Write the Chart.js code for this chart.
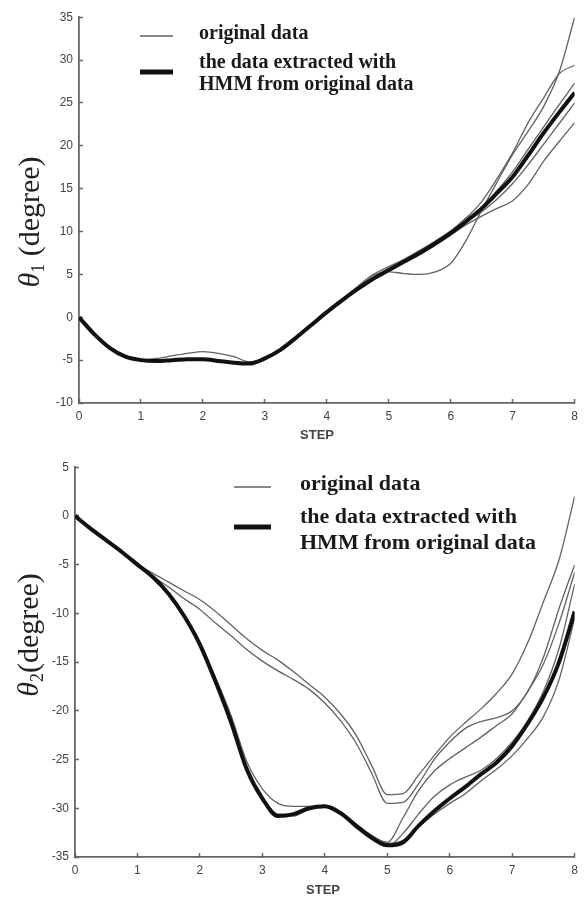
<!DOCTYPE html>
<html>
<head>
<meta charset="utf-8">
<script src="https://cdn.jsdelivr.net/npm/chart.js@4.4.0/dist/chart.umd.min.js"></script>
<style>
  html, body { margin: 0; padding: 0; background: #fff; }
  canvas { display: block; }
</style>
</head>
<body>
<canvas id="theta1" width="588" height="450"></canvas>
<canvas id="theta2" width="588" height="450"></canvas>
<script>
// x positions (STEP) shared by every curve
const steps = [0, 0.25, 0.5, 0.75, 1, 1.25, 1.5, 1.75, 2, 2.25, 2.5, 2.75, 3, 3.25, 3.5, 3.75,
  4, 4.25, 4.5, 4.75, 5, 5.25, 5.5, 5.75, 6, 6.25, 6.5, 6.75, 7, 7.25, 7.5, 7.75, 8];

// theta1 - HMM curve and the original recordings
const theta1Hmm = [0, -2.0, -3.6, -4.6, -5.0, -5.1, -5.0, -4.9, -4.9, -5.1, -5.3, -5.4, -4.8, -3.8, -2.4, -0.9,
  0.6, 2.0, 3.3, 4.5, 5.5, 6.5, 7.5, 8.6, 9.8, 11.2, 12.7, 14.5, 16.4, 18.9, 21.5, 23.9, 26.2];
const theta1A = [0, -2.0, -3.5, -4.5, -4.9, -5.0, -5.0, -5.0, -5.0, -5.1, -5.3, -5.3, -4.8, -3.7, -2.3, -0.8,
  0.7, 2.1, 3.6, 4.9, 5.3, 5.1, 5.0, 5.3, 6.3, 9.0, 12.5, 15.8, 19.0, 21.7, 24.6, 28.6, 35.0];
const theta1B = [0, -1.9, -3.5, -4.5, -4.9, -4.8, -4.5, -4.2, -4.0, -4.2, -4.6, -5.2, -4.9, -3.9, -2.5, -0.9,
  0.6, 2.1, 3.6, 5.0, 5.9, 6.8, 7.8, 8.9, 10.1, 11.6, 13.5, 16.2, 19.2, 22.7, 25.6, 28.4, 29.4];
const theta1C = [0, -2.0, -3.6, -4.6, -5.0, -5.1, -5.1, -5.0, -5.0, -5.1, -5.3, -5.4, -4.9, -3.9, -2.5, -1.0,
  0.5, 1.9, 3.2, 4.4, 5.4, 6.4, 7.3, 8.4, 9.6, 11.0, 12.8, 14.8, 17.0, 19.6, 22.2, 24.8, 27.3];
const theta1D = [0, -2.0, -3.6, -4.6, -5.0, -5.1, -5.0, -4.9, -4.9, -5.1, -5.3, -5.4, -4.8, -3.8, -2.4, -0.9,
  0.6, 2.1, 3.5, 4.7, 5.7, 6.7, 7.7, 8.8, 9.9, 11.1, 12.3, 13.8, 15.6, 17.8, 20.2, 22.6, 25.0];
const theta1E = [0, -2.0, -3.6, -4.6, -5.0, -5.1, -5.0, -4.9, -4.9, -5.1, -5.3, -5.4, -4.8, -3.8, -2.4, -0.9,
  0.6, 2.0, 3.3, 4.6, 5.6, 6.6, 7.6, 8.6, 9.6, 10.8, 11.8, 12.7, 13.6, 15.5, 18.2, 20.5, 22.7];

// theta2 - HMM curve and the original recordings
const theta2Hmm = [0, -1.3, -2.5, -3.7, -5.0, -6.3, -8.0, -10.3, -13.2, -17.0, -21.2, -26.0, -29.0, -30.8, -30.6, -30.0,
  -29.8, -30.5, -31.8, -33.0, -33.8, -33.5, -31.8, -30.3, -29.0, -27.8, -26.5, -25.3, -23.6, -21.3, -18.6, -15.0, -9.8];
const theta2A = [0, -1.3, -2.5, -3.7, -4.9, -5.9, -6.8, -7.7, -8.6, -9.8, -11.2, -12.6, -13.8, -14.8, -16.0, -17.3,
  -18.6, -20.3, -22.5, -25.6, -28.6, -28.5, -26.6, -24.6, -22.7, -21.2, -19.8, -18.2, -16.2, -13.0, -8.8, -4.5, 2.0];
const theta2B = [0, -1.3, -2.5, -3.7, -5.0, -6.2, -7.3, -8.5, -9.6, -11.0, -12.3, -13.7, -14.9, -15.9, -16.8, -17.8,
  -19.2, -21.0, -23.3, -26.4, -29.5, -29.4, -27.5, -25.0, -23.2, -21.8, -21.1, -20.7, -20.0, -18.0, -14.5, -9.5, -5.0];
const theta2C = [0, -1.3, -2.5, -3.7, -5.0, -6.3, -8.0, -10.2, -13.0, -16.8, -21.0, -25.8, -28.8, -30.6, -30.6, -30.0,
  -29.8, -30.4, -31.7, -32.8, -33.5, -31.0, -28.2, -26.2, -24.9, -23.8, -22.7, -21.5, -20.3, -18.0, -15.2, -11.0, -5.8];
const theta2D = [0, -1.3, -2.5, -3.7, -5.0, -6.3, -8.0, -10.3, -13.0, -16.6, -20.5, -25.2, -28.0, -29.5, -29.8, -29.8,
  -29.7, -30.3, -31.6, -32.8, -33.6, -33.3, -31.9, -30.6, -29.5, -28.5, -27.2, -26.0, -24.6, -22.8, -20.6, -16.8, -10.5];
const theta2E = [0, -1.3, -2.5, -3.7, -5.0, -6.3, -8.0, -10.3, -13.1, -17.0, -21.2, -26.1, -29.0, -30.8, -30.8, -30.1,
  -29.9, -30.6, -32.0, -33.2, -33.9, -32.6, -30.6, -28.8, -27.6, -26.8, -26.1, -24.9, -23.2, -21.0, -18.0, -13.6, -7.0];

const theta1Range = [-10, 35];
const theta2Range = [-35, 5];
const legendLines = ['original data', 'the data extracted with', 'HMM from original data'];

function toPoints(values) {
  return values.map((v, i) => ({ x: steps[i], y: v }));
}

function makeSets(hmm, thin) {
  // first dataset is drawn on top
  const sets = [{ data: toPoints(hmm), borderColor: '#111', borderWidth: 4 }];
  thin.forEach(arr => sets.push({ data: toPoints(arr), borderColor: '#626262', borderWidth: 1.3 }));
  return sets;
}

// legend, axis titles drawn as text on the canvas
const paperText = {
  id: 'paperText',
  afterDraw(chart, args, o) {
    const ctx = chart.ctx;
    ctx.save();
    ctx.lineCap = 'butt';
    ctx.strokeStyle = '#888';
    ctx.lineWidth = 2;
    ctx.beginPath();
    ctx.moveTo(o.sampleX, o.sampleY[0]);
    ctx.lineTo(o.sampleX + o.sampleW, o.sampleY[0]);
    ctx.stroke();
    ctx.strokeStyle = '#111';
    ctx.lineWidth = 5;
    ctx.beginPath();
    ctx.moveTo(o.sampleX, o.sampleY[1]);
    ctx.lineTo(o.sampleX + o.sampleW, o.sampleY[1]);
    ctx.stroke();

    ctx.fillStyle = '#1a1a1a';
    ctx.font = 'bold ' + o.legendSize + 'px "Liberation Serif"';
    ctx.textBaseline = 'middle';
    ctx.textAlign = 'left';
    legendLines.forEach((t, i) => ctx.fillText(t, o.textX, o.textY[i]));

    ctx.fillStyle = '#444';
    ctx.font = 'bold 13px "Liberation Sans"';
    ctx.textAlign = 'center';
    ctx.fillText('STEP', o.stepX, o.stepY);

    // rotated y title: italic theta + subscript + (degree)
    ctx.translate(o.titleX, o.titleY);
    ctx.rotate(-Math.PI / 2);
    ctx.fillStyle = '#222';
    ctx.textBaseline = 'alphabetic';
    ctx.textAlign = 'left';
    const big = '30px "Liberation Serif"';
    const small = '18px "Liberation Serif"';
    ctx.font = 'italic ' + big;
    const wT = ctx.measureText('θ').width;
    ctx.font = small;
    const wS = ctx.measureText(o.sub).width;
    ctx.font = big;
    const wR = ctx.measureText(o.rest).width;
    let x = -(wT + wS + wR) / 2;
    ctx.font = 'italic ' + big;
    ctx.fillText('θ', x, 0);
    x += wT;
    ctx.font = small;
    ctx.fillText(o.sub, x, 5);
    x += wS;
    ctx.font = big;
    ctx.fillText(o.rest, x, 0);
    ctx.restore();
  }
};

function makeOptions(range, leftW, bottomH, padTop, text) {
  const axisColor = '#666';
  const tickFont = { family: '"Liberation Sans"', size: 12 };
  return {
    responsive: false,
    animation: false,
    layout: { padding: { top: padTop, right: 13, left: 0, bottom: 0 } },
    elements: { point: { radius: 0 }, line: { cubicInterpolationMode: 'monotone', fill: false } },
    plugins: { legend: { display: false }, tooltip: { enabled: false }, paperText: text },
    scales: {
      x: {
        type: 'linear', min: 0, max: 8,
        ticks: { stepSize: 1, color: '#444', font: tickFont, padding: 10 },
        grid: { drawOnChartArea: false, tickLength: -4, tickColor: axisColor, tickWidth: 1.5 },
        border: { color: axisColor, width: 1.8 },
        afterFit(scale) { scale.height = bottomH; }
      },
      y: {
        min: range[0], max: range[1],
        ticks: { stepSize: 5, color: '#444', font: tickFont, padding: 10 },
        grid: { drawOnChartArea: false, tickLength: -4, tickColor: axisColor, tickWidth: 1.5 },
        border: { color: axisColor, width: 1.8 },
        afterFit(scale) { scale.width = leftW; }
      }
    }
  };
}

new Chart(document.getElementById('theta1'), {
  type: 'line',
  data: { datasets: makeSets(theta1Hmm, [theta1A, theta1B, theta1C, theta1D, theta1E]) },
  options: makeOptions(theta1Range, 79, 47, 17, {
    sampleX: 140, sampleW: 33, sampleY: [36, 72],
    textX: 199, textY: [34, 63, 85], legendSize: 20,
    stepX: 317, stepY: 435,
    titleX: 39, titleY: 222, sub: '1', rest: ' (degree)'
  }),
  plugins: [paperText]
});

new Chart(document.getElementById('theta2'), {
  type: 'line',
  data: { datasets: makeSets(theta2Hmm, [theta2A, theta2B, theta2C, theta2D, theta2E]) },
  options: makeOptions(theta2Range, 75, 43, 15, {
    sampleX: 234, sampleW: 37, sampleY: [37, 77],
    textX: 300, textY: [34, 67, 93], legendSize: 22,
    stepX: 323, stepY: 440,
    titleX: 38, titleY: 185, sub: '2', rest: '(degree)'
  }),
  plugins: [paperText]
});
</script>
</body>
</html>
